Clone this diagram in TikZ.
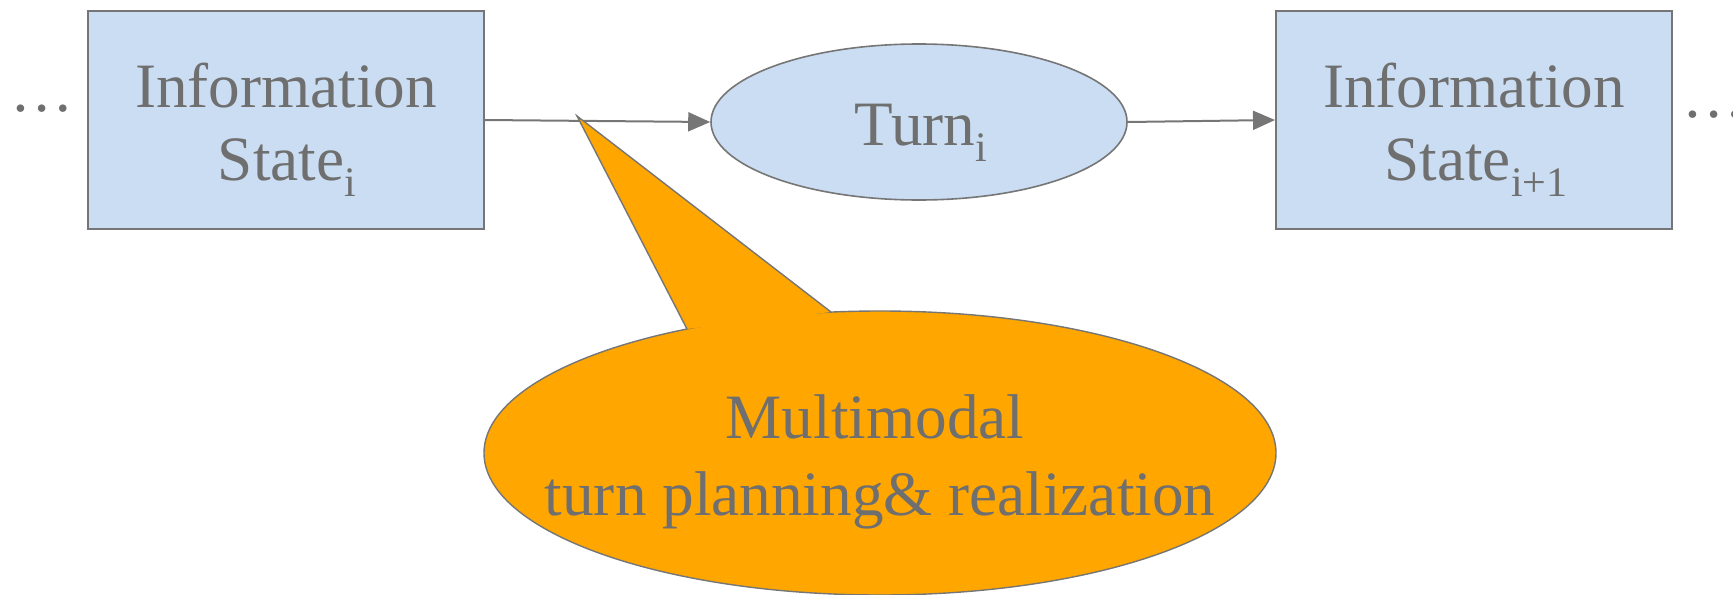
\documentclass[tikz,border=0pt]{standalone}
\usepackage{fontspec}
\setmainfont{Liberation Serif}
\usetikzlibrary{shapes.geometric,arrows.meta}
\definecolor{txtgray}{HTML}{6F6F6F}
\definecolor{linegray}{HTML}{767676}
\definecolor{statefill}{HTML}{CADDF2}
\definecolor{calloutfill}{HTML}{FFA600}
% lowered index, as in State_i
\newcommand\lowidx[1]{\raisebox{-8pt}{\fontsize{21}{21}\selectfont #1}}
\tikzset{
  bigtext/.style={font=\fontsize{31.6}{36.5}\selectfont, text=txtgray, inner sep=0pt},
  linetext/.style={bigtext, anchor=base},
  statebox/.style={draw=linegray, line width=1pt, fill=statefill,
    minimum width=198pt, minimum height=109pt, inner sep=0pt},
  turnnode/.style={ellipse, draw=linegray, line width=0.8pt, fill=statefill,
    minimum width=208pt, minimum height=78pt, inner sep=0pt},
  flow/.style={draw=linegray, line width=1pt, -{Triangle[length=11pt,width=9.5pt]}},
}
\begin{document}
\begin{tikzpicture}[x=0.5pt,y=-0.5pt]
  \useasboundingbox (0,0) rectangle (1733,594);

  % information states and the turn between them
  \node[statebox] (s1) at (285.5,120) {};
  \node[turnnode] (turn) at (919,122) {};
  \node[statebox] (s2) at (1474,120) {};

  \node[linetext] (s1a) at (286,107) {Information};
  \node[linetext] (s1b) at (287,180) {State\lowidx{i}};
  \node[linetext] (turnt) at (921,145) {Turn\lowidx{i}};
  \node[linetext] (s2a) at (1474,107) {Information};
  \node[linetext] (s2b) at (1476,180) {State\lowidx{i+1}};

  \node[linetext] (dl) at (42,111) {\ldots};
  \node[linetext] (dr) at (1714,117) {\ldots};

  \draw[flow] (s1.east) -- (turn.west);
  \draw[flow] (turn.east) -- (s2.west);

  % speech-bubble callout
  \coordinate (tip) at (577,116);
  \coordinate (baseA) at (687,329);
  \coordinate (baseB) at (831,312);
  \node[ellipse, draw=linegray, line width=0.7pt, fill=calloutfill,
        minimum width=396pt, minimum height=142pt, inner sep=0pt] (bubble) at (880,453) {};
  \fill[calloutfill] (tip) -- (baseA) -- (baseB) -- cycle;
  \draw[linegray, line width=0.7pt, line join=miter] (baseA) -- (tip) -- (baseB);
  \node[linetext] (bt1) at (875,438) {Multimodal};
  \node[linetext] (bt2) at (880,515) {turn planning\&{} realization};
\end{tikzpicture}
\end{document}
